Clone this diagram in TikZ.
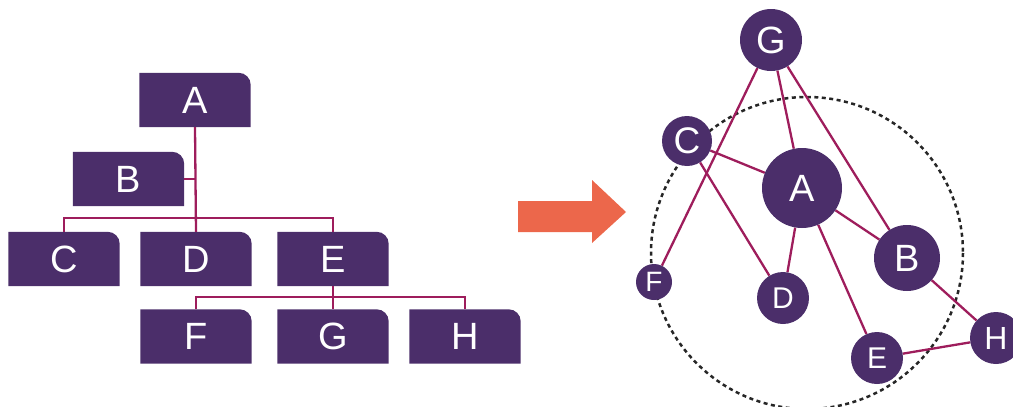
\documentclass[tikz,border=0pt]{standalone}
\usepackage{fontspec}
\setmainfont{Liberation Sans}
\usetikzlibrary{backgrounds}
\definecolor{plum}{HTML}{4B2E6A}
\definecolor{wine}{HTML}{9E1D5C}
\definecolor{coral}{HTML}{EC674B}
\tikzset{
  orgbox/.style={minimum width=111pt, minimum height=54pt, inner sep=0pt,
    text=white, font=\fontsize{38}{38}\selectfont},
  link/.style={draw=wine, line width=2.3pt},
  bubble/.style={circle, fill=plum, inner sep=0pt, text=white},
  edge/.style={draw=wine, line width=2.3pt},
}
% filled box with only the top-right corner rounded
\newcommand{\boxfill}[1]{%
  \fill[plum] (#1.south west) -- (#1.north west) -- ([xshift=-12pt]#1.north east)
    arc[start angle=90, end angle=0, radius=12pt] -- (#1.south east) -- cycle;}
\begin{document}
\begin{tikzpicture}[x=1pt, y=-1pt]
\useasboundingbox (0,0) rectangle (1013,407);

% ---- hierarchy ----
\node[orgbox] (tA) at (195,100) {A};
\node[orgbox] (tB) at (128.5,179) {B};
\node[orgbox] (tC) at (64,259) {C};
\node[orgbox] (tD) at (196,259) {D};
\node[orgbox] (tE) at (333,259) {E};
\node[orgbox] (tF) at (196,336.5) {F};
\node[orgbox] (tG) at (333,336.5) {G};
\node[orgbox] (tH) at (465,336.5) {H};
\coordinate (bus1) at (196,218);
\coordinate (bus2) at (333,297);

\begin{scope}[on background layer]
  \foreach \n in {tA,tB,tC,tD,tE,tF,tG,tH} {\boxfill{\n}}
  \draw[link] (tA.south) -- (tD.north);
  \draw[link] (tB.east) -- (tB.east -| tA.south);
  \draw[link] (tC.north) |- (bus1) -| (tE.north);
  \draw[link] (tE.south) -- (tG.north);
  \draw[link] (tF.north) |- (bus2) -| (tH.north);
\end{scope}

% ---- arrow ----
\fill[coral] (518,201) -- (592,201) -- (592,180) -- (626,212) -- (592,243)
  -- (592,232) -- (518,232) -- cycle;

% ---- network ----
\node[bubble, minimum size=62pt, font=\fontsize{38}{38}\selectfont] (G) at (771,40) {G};
\node[bubble, minimum size=50pt, font=\fontsize{37}{37}\selectfont] (C) at (687,141) {C};
\node[bubble, minimum size=80pt, font=\fontsize{38}{38}\selectfont] (A) at (802,188) {A};
\node[bubble, minimum size=66pt, font=\fontsize{38}{38}\selectfont] (B) at (907,258) {B};
\node[bubble, minimum size=36pt, font=\fontsize{28}{28}\selectfont] (F) at (654,282) {F};
\node[bubble, minimum size=52pt, font=\fontsize{30}{30}\selectfont] (D) at (783,298) {D};
\node[bubble, minimum size=52pt, font=\fontsize{30}{30}\selectfont] (E) at (877,358) {E};
\node[bubble, minimum size=52pt, font=\fontsize{32}{32}\selectfont] (H) at (996,338) {H};

\begin{scope}[on background layer]
  \draw[black!85, line width=2.5pt, dash pattern=on 4pt off 3.5pt] (807,253) circle[radius=156];
  \draw[edge] (G) -- (F);
  \draw[edge] (G) -- (A);
  \draw[edge] (G) -- (B);
  \draw[edge] (C) -- (A);
  \draw[edge] (C) -- (D);
  \draw[edge] (A) -- (D);
  \draw[edge] (A) -- (E);
  \draw[edge] (A) -- (B);
  \draw[edge] (B) -- (H);
  \draw[edge] (E) -- (H);
\end{scope}
\end{tikzpicture}
\end{document}
